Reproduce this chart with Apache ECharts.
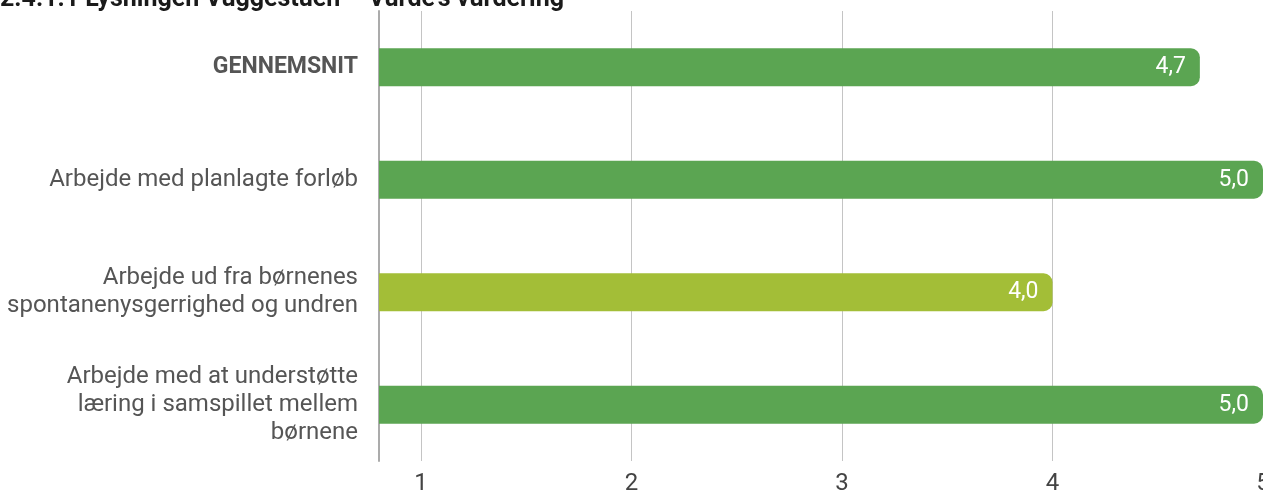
<!DOCTYPE html>
<html><head><meta charset="utf-8">
<script src="https://cdn.jsdelivr.net/npm/echarts@6/dist/echarts.min.js"></script>
<style>html,body{margin:0;padding:0;background:#fff}#c{width:1263px;height:493px}</style>
</head><body><div id="c"></div>
<script>
const titleText = "2.4.1.1 Lysningen Vuggestuen – Vurde's vurdering";
const categories = [
  "GENNEMSNIT",
  "Arbejde med planlagte forløb",
  "Arbejde ud fra børnenes\nspontanenysgerrighed og undren",
  "Arbejde med at understøtte\nlæring i samspillet mellem\nbørnene"
];
const values = [4.7, 5.0, 4.0, 5.0];
const tickValues = [1, 2, 3, 4, 5];

const chart = echarts.init(document.getElementById('c'));
chart.setOption({
  animation: false,
  textStyle: { fontFamily: 'Roboto' },
  title: {
    text: titleText, left: 0, top: -13, padding: 0,
    textStyle: { fontFamily: 'Roboto', fontSize: 25, fontWeight: 'bold', color: '#1a1a1a' }
  },
  grid: { left: 379, right: 0, top: 11, bottom: 32, containLabel: false, outerBoundsMode: 'none' },
  xAxis: {
    type: 'value', min: 0.8, max: 5,
    axisLine: { show: false },
    axisTick: { show: false, customValues: tickValues },
    axisLabel: { customValues: tickValues, fontSize: 24, color: '#444', margin: 11, hideOverlap: false, formatter: v => String(Math.round(v)) },
    splitLine: { show: true, lineStyle: { color: '#c4c4c4', width: 1 } }
  },
  yAxis: {
    type: 'category', inverse: true, data: categories,
    axisLine: { show: true, lineStyle: { color: '#ababab', width: 2 } },
    axisTick: { show: false },
    axisLabel: {
      fontSize: 24, color: '#555', margin: 21, lineHeight: 28, align: 'right',
      formatter: (v, i) => i === 0 ? '{b|' + v + '}' : v,
      rich: { b: { fontWeight: 'bold', fontSize: 23, color: '#555' } }
    }
  },
  series: [{
    type: 'bar', data: values, barWidth: 38,
    itemStyle: {
      borderRadius: [0, 9, 9, 0],
      color: p => p.value < 4.5 ? '#a3be37' : '#5ba552'
    },
    label: {
      show: true, position: 'insideRight', distance: 14, color: '#fff', fontSize: 23,
      formatter: p => p.value.toFixed(1).replace('.', ',')
    }
  }]
});
</script></body></html>
